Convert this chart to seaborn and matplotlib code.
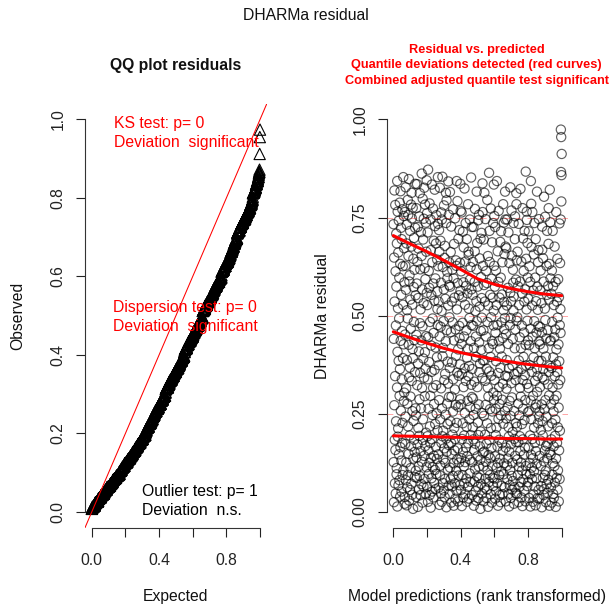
import numpy as np
import pandas as pd
import matplotlib
matplotlib.use("Agg")
import matplotlib.pyplot as plt
import seaborn as sns

# ---------------------------------------------------------------------------
# Scaled (quantile) residuals, ordered by the rank of the model prediction.
# Fifteen blocks of 70 observations, from the lowest to the highest prediction.
# ---------------------------------------------------------------------------
resid_rank_01 = [.733, .127, .441, .025, .648, .272, .819, .536, .184, .073,
                 .346, .782, .158, .613, .047, .475, .231, .709, .574, .096,
                 .112, .684, .317, .843, .014, .408, .765, .192, .519, .213,
                 .661, .068, .385, .742, .147, .493, .597, .081, .296, .788,
                 .364, .039, .632, .165, .817, .436, .258, .724, .553, .131,
                 .052, .695, .338, .461, .176, .771, .227, .094, .626, .392,
                 .528, .853, .106, .427, .754, .283, .672, .304, .585, .021]
resid_rank_02 = [.764, .038, .452, .173, .627, .243, .827, .081, .566, .315,
                 .126, .684, .017, .732, .387, .514, .063, .276, .493, .795,
                 .094, .218, .757, .652, .148, .426, .848, .343, .029, .587,
                 .603, .195, .368, .056, .716, .541, .294, .112, .467, .783,
                 .167, .072, .676, .813, .334, .748, .044, .528, .257, .415,
                 .775, .392, .008, .136, .645, .232, .573, .484, .698, .184,
                 .438, .617, .153, .089, .356, .724, .836, .264, .552, .105]
resid_rank_03 = [.246, .038, .774, .451, .139, .582, .087, .835, .323, .637,
                 .172, .726, .013, .378, .545, .214, .671, .116, .057, .409,
                 .753, .194, .287, .092, .812, .481, .354, .618, .043, .516,
                 .155, .713, .264, .437, .071, .652, .862, .128, .316, .567,
                 .024, .473, .798, .183, .236, .694, .391, .065, .532, .747,
                 .143, .342, .826, .084, .621, .295, .407, .783, .168, .593,
                 .365, .046, .737, .202, .448, .663, .114, .845, .558, .761]
resid_rank_04 = [.064, .527, .193, .712, .338, .026, .872, .445, .157, .263,
                 .614, .097, .382, .571, .125, .786, .043, .218, .484, .176,
                 .296, .745, .011, .667, .138, .424, .553, .086, .357, .834,
                 .185, .052, .636, .247, .493, .114, .773, .316, .582, .037,
                 .456, .691, .143, .275, .074, .538, .362, .821, .107, .728,
                 .224, .595, .058, .419, .166, .684, .323, .097, .756, .251,
                 .135, .394, .643, .562, .517, .208, .476, .853, .734, .626]
resid_rank_05 = [.147, .536, .062, .374, .718, .285, .663, .018, .447, .826,
                 .093, .236, .118, .691, .472, .047, .584, .315, .763, .176,
                 .512, .026, .745, .264, .193, .854, .397, .624, .074, .418,
                 .207, .134, .486, .055, .567, .781, .162, .336, .647, .038,
                 .678, .084, .352, .543, .125, .248, .435, .813, .736, .187,
                 .012, .794, .153, .463, .276, .612, .595, .224, .383, .108,
                 .327, .526, .842, .171, .067, .757, .293, .636, .578, .496]
resid_rank_06 = [.046, .367, .815, .113, .574, .231, .083, .662, .458, .176,
                 .727, .024, .294, .148, .536, .381, .065, .617, .197, .483,
                 .092, .256, .771, .338, .124, .595, .016, .437, .683, .214,
                 .157, .546, .073, .312, .748, .186, .034, .465, .273, .641,
                 .398, .105, .627, .054, .843, .227, .516, .134, .355, .792,
                 .583, .162, .027, .414, .268, .696, .093, .347, .552, .126,
                 .474, .718, .443, .068, .376, .635, .287, .836, .564, .767]
resid_rank_07 = [.274, .056, .613, .137, .428, .763, .015, .352, .186, .547,
                 .094, .482, .226, .714, .153, .037, .585, .318, .674, .116,
                 .447, .195, .073, .824, .366, .252, .528, .127, .045, .638,
                 .736, .334, .164, .576, .085, .463, .217, .695, .026, .393,
                 .142, .557, .283, .064, .416, .784, .175, .346, .663, .655,
                 .518, .034, .372, .236, .494, .098, .745, .592, .133, .267,
                 .077, .624, .196, .435, .852, .324, .567, .476, .293, .726]
resid_rank_08 = [.043, .364, .127, .553, .216, .637, .289, .474, .185, .726,
                 .247, .016, .418, .158, .332, .078, .586, .664, .772, .109,
                 .174, .512, .053, .263, .447, .395, .029, .537, .618, .816,
                 .486, .091, .685, .318, .142, .574, .228, .064, .743, .196,
                 .035, .274, .116, .757, .432, .087, .356, .523, .646, .167,
                 .378, .133, .008, .696, .205, .461, .598, .072, .413, .711,
                 .545, .495, .252, .047, .341, .837, .764, .151, .627, .386]
resid_rank_09 = [.116, .463, .027, .694, .245, .578, .154, .813, .386, .062,
                 .536, .197, .334, .085, .746, .273, .128, .447, .614, .036,
                 .174, .365, .057, .583, .226, .795, .484, .106, .317, .652,
                 .013, .526, .294, .145, .417, .076, .864, .358, .183, .716,
                 .637, .094, .262, .553, .137, .395, .045, .773, .214, .496,
                 .347, .163, .594, .024, .435, .687, .256, .118, .546, .087,
                 .428, .736, .066, .304, .475, .513, .834, .286, .627, .754]
resid_rank_10 = [.085, .336, .574, .142, .726, .034, .457, .263, .196, .615,
                 .384, .053, .215, .527, .113, .843, .296, .074, .476, .167,
                 .664, .125, .016, .354, .586, .237, .767, .435, .094, .318,
                 .184, .546, .275, .043, .416, .136, .688, .367, .025, .597,
                 .246, .715, .104, .483, .067, .396, .175, .554, .286, .636,
                 .045, .443, .327, .156, .784, .225, .514, .096, .737, .124,
                 .535, .466, .657, .063, .494, .257, .816, .347, .745, .676]
resid_rank_11 = [.164, .027, .453, .238, .672, .314, .387, .526, .118, .745,
                 .083, .267, .345, .136, .571, .428, .045, .712, .216, .192,
                 .366, .014, .154, .634, .283, .068, .476, .107, .558, .827,
                 .245, .494, .036, .537, .173, .328, .768, .092, .653, .292,
                 .057, .125, .373, .204, .441, .617, .079, .584, .513, .736,
                 .549, .021, .257, .186, .352, .063, .417, .695, .753, .143,
                 .465, .336, .048, .226, .592, .178, .812, .784, .487, .641]
resid_rank_12 = [.217, .046, .496, .134, .663, .357, .094, .575, .276, .178,
                 .025, .734, .386, .115, .527, .246, .064, .445, .193, .316,
                 .587, .155, .823, .076, .294, .417, .126, .638, .037, .364,
                 .475, .224, .106, .556, .015, .774, .336, .185, .697, .263,
                 .083, .395, .614, .146, .457, .054, .536, .234, .716, .348,
                 .164, .567, .285, .027, .426, .867, .117, .373, .645, .096,
                 .516, .765, .744, .326, .066, .487, .685, .597, .254, .437]
resid_rank_13 = [.076, .543, .316, .164, .715, .036, .425, .257, .626, .125,
                 .374, .096, .195, .586, .014, .467, .284, .843, .146, .785,
                 .236, .675, .113, .357, .084, .526, .764, .186, .447, .026,
                 .137, .296, .564, .045, .394, .656, .104, .215, .486, .736,
                 .065, .417, .176, .334, .597, .266, .017, .695, .155, .537,
                 .274, .086, .457, .123, .365, .816, .306, .574, .035, .346,
                 .515, .226, .636, .474, .667, .056, .385, .746, .243, .434]
resid_rank_14 = [.034, .256, .143, .427, .318, .471, .564, .182, .615, .209,
                 .117, .066, .385, .532, .274, .012, .458, .727, .668, .343,
                 .231, .195, .087, .646, .364, .416, .043, .587, .129, .803,
                 .058, .337, .262, .156, .518, .094, .752, .489, .285, .104,
                 .396, .025, .168, .243, .442, .627, .071, .553, .716, .137,
                 .174, .463, .049, .325, .218, .576, .082, .683, .774, .357,
                 .541, .297, .632, .016, .152, .821, .435, .372, .738, .595]
resid_rank_15 = [.146, .437, .063, .274, .556, .185, .367, .024, .615, .226,
                 .484, .095, .317, .716, .124, .575, .046, .394, .256, .167,
                 .036, .527, .286, .445, .117, .676, .346, .075, .194, .465,
                 .235, .586, .013, .376, .136, .764, .414, .296, .087, .536,
                 .176, .356, .645, .057, .495, .216, .106, .593, .325, .427,
                 .266, .027, .547, .157, .384, .735, .084, .476, .207, .634,
                 .336, .517, .456, .745, .974, .866, .955, .791, .858, .912]

# Fitted quantile curves (0.25 / 0.5 / 0.75) of residual vs. predicted rank
curve_x = [0.0, 0.1, 0.2, 0.3, 0.4, 0.5, 0.6, 0.7, 0.8, 0.9, 1.0]
curve_q25 = [0.194, 0.193, 0.192, 0.191, 0.190, 0.189, 0.188, 0.187, 0.187, 0.186, 0.186]
curve_q50 = [0.459, 0.444, 0.430, 0.417, 0.406, 0.397, 0.389, 0.382, 0.376, 0.371, 0.367]
curve_q75 = [0.704, 0.683, 0.663, 0.641, 0.618, 0.594, 0.580, 0.569, 0.561, 0.555, 0.551]
quantile_levels = [0.25, 0.5, 0.75]

# Test results shown as legends
ks_p = 0
dispersion_p = 0
outlier_p = 1

# Axis ticks and labels
unit_ticks = [0.0, 0.2, 0.4, 0.6, 0.8, 1.0]
qq_y_labels = ["0.0", "0.2", "0.4", "0.6", "0.8", "1.0"]
x_labels = ["0.0", "", "0.4", "", "0.8", ""]
res_ticks = [0.0, 0.25, 0.5, 0.75, 1.0]
res_labels = ["0.00", "0.25", "0.50", "0.75", "1.00"]

# ---------------------------------------------------------------------------
residuals = np.array(resid_rank_01 + resid_rank_02 + resid_rank_03 + resid_rank_04
                     + resid_rank_05 + resid_rank_06 + resid_rank_07 + resid_rank_08
                     + resid_rank_09 + resid_rank_10 + resid_rank_11 + resid_rank_12
                     + resid_rank_13 + resid_rank_14 + resid_rank_15)
n = residuals.size
res_df = pd.DataFrame({"pred_rank": np.arange(1, n + 1) / n, "residual": residuals})
qq_df = pd.DataFrame({"expected": (np.arange(1, n + 1) - 0.5) / n,
                      "observed": np.sort(residuals)})
curves = pd.DataFrame({"x": curve_x, "q25": curve_q25, "q50": curve_q50, "q75": curve_q75})

sns.set_theme(style="white", rc={
    "axes.edgecolor": "#333333", "xtick.color": "#222222", "ytick.color": "#222222",
    "text.color": "#111111", "axes.labelcolor": "#111111",
})
plt.rcParams["font.family"] = ["Liberation Sans", "DejaVu Sans"]

W, H = 612, 610
BASE = 11.3
QQ_BOX = (85, 266.8, 103.7, 527.7)
RES_BOX = (386.6, 568.4, 103.7, 527.7)


def fig_box(box):
    x0, x1, y_top, y_bot = box
    return [x0 / W, 1 - y_bot / H, (x1 - x0) / W, (y_bot - y_top) / H]


def ax_pt(box, x, y):
    x0, x1, yt, yb = box
    return (x - x0) / (x1 - x0), (yb - y) / (yb - yt)


def r_style(ax, yticks, ylabels):
    ax.set_xlim(-0.04, 1.04)
    ax.set_ylim(-0.04, 1.04)
    for side in ("top", "right"):
        ax.spines[side].set_visible(False)
    ax.spines["left"].set_bounds(0, 1)
    ax.spines["bottom"].set_bounds(0, 1)
    for side in ("left", "bottom"):
        ax.spines[side].set_linewidth(0.8)
    ax.set_xticks(unit_ticks, x_labels)
    ax.set_yticks(yticks, ylabels)
    ax.tick_params(axis="both", which="major", direction="out", length=6.5, width=0.8,
                   labelsize=BASE, bottom=True, left=True)
    ax.tick_params(axis="x", pad=12)
    ax.tick_params(axis="y", pad=7.3, labelrotation=90)
    for lab in ax.get_yticklabels():
        lab.set_verticalalignment("center")
    ax.grid(False)


fig = plt.figure(figsize=(W / 100, H / 100), dpi=100)
ax_qq = fig.add_axes(fig_box(QQ_BOX))
ax_res = fig.add_axes(fig_box(RES_BOX))

# ---- QQ plot of the residuals against the uniform distribution ----
sns.scatterplot(data=qq_df, x="expected", y="observed", ax=ax_qq, marker="^",
                s=66, facecolor="none", edgecolor="black", linewidth=0.8, zorder=2)
ax_qq.axline((0, 0), slope=1, color="red", lw=0.75, zorder=3)
r_style(ax_qq, unit_ticks, qq_y_labels)
ax_qq.set_xlabel("Expected", fontsize=BASE, va="center")
ax_qq.set_ylabel("Observed", fontsize=BASE, va="center")
ax_qq.xaxis.set_label_coords(0.5, -0.1634)
ax_qq.yaxis.set_label_coords(-0.3685, 0.5)

ax_qq.text(*ax_pt(QQ_BOX, 175.9, 66), "QQ plot residuals", transform=ax_qq.transAxes,
           ha="center", va="center", fontsize=BASE, fontweight="bold")
ks_sig = "significant" if ks_p < 0.05 else "n.s."
disp_sig = "significant" if dispersion_p < 0.05 else "n.s."
out_sig = "significant" if outlier_p < 0.05 else "n.s."
ax_qq.text(*ax_pt(QQ_BOX, 114, 133), f"KS test: p= {ks_p}\nDeviation  {ks_sig}",
           transform=ax_qq.transAxes, ha="left", va="center", color="red",
           fontsize=BASE, linespacing=1.38)
ax_qq.text(*ax_pt(QQ_BOX, 113.3, 317), f"Dispersion test: p= {dispersion_p}\nDeviation  {disp_sig}",
           transform=ax_qq.transAxes, ha="left", va="center", color="red",
           fontsize=BASE, linespacing=1.38)
ax_qq.text(*ax_pt(QQ_BOX, 141.7, 501), f"Outlier test: p= {outlier_p}\nDeviation  {out_sig}",
           transform=ax_qq.transAxes, ha="left", va="center", color="black",
           fontsize=BASE, linespacing=1.38)

# ---- residual vs. predicted ----
sns.scatterplot(data=res_df, x="pred_rank", y="residual", ax=ax_res, marker="o",
                s=44, facecolor="none", edgecolor=(0, 0, 0, 0.62), linewidth=0.85, zorder=2)
for q in quantile_levels:
    ax_res.axhline(q, color="red", alpha=0.35, lw=0.7, ls=(0, (6, 6)), zorder=3)
for col in ("q25", "q50", "q75"):
    sns.lineplot(data=curves, x="x", y=col, ax=ax_res, color="red", lw=2.2, zorder=4)
r_style(ax_res, res_ticks, res_labels)
ax_res.set_xlabel("Model predictions (rank transformed)", fontsize=BASE, va="center")
ax_res.set_ylabel("DHARMa residual", fontsize=BASE, va="center")
ax_res.xaxis.set_label_coords(0.5, -0.1634)
ax_res.yaxis.set_label_coords(-0.3553, 0.5)
ax_res.text(*ax_pt(RES_BOX, 476.8, 65.3),
            "Residual vs. predicted\nQuantile deviations detected (red curves)\n"
            "Combined adjusted quantile test significant",
            transform=ax_res.transAxes, ha="center", va="center", color="red",
            fontsize=9.2, fontweight="bold", linespacing=1.4)

fig.text(306 / W, 1 - 15 / H, "DHARMa residual", ha="center", va="center", fontsize=BASE)

fig.savefig("out.png", dpi=100, facecolor="white")
